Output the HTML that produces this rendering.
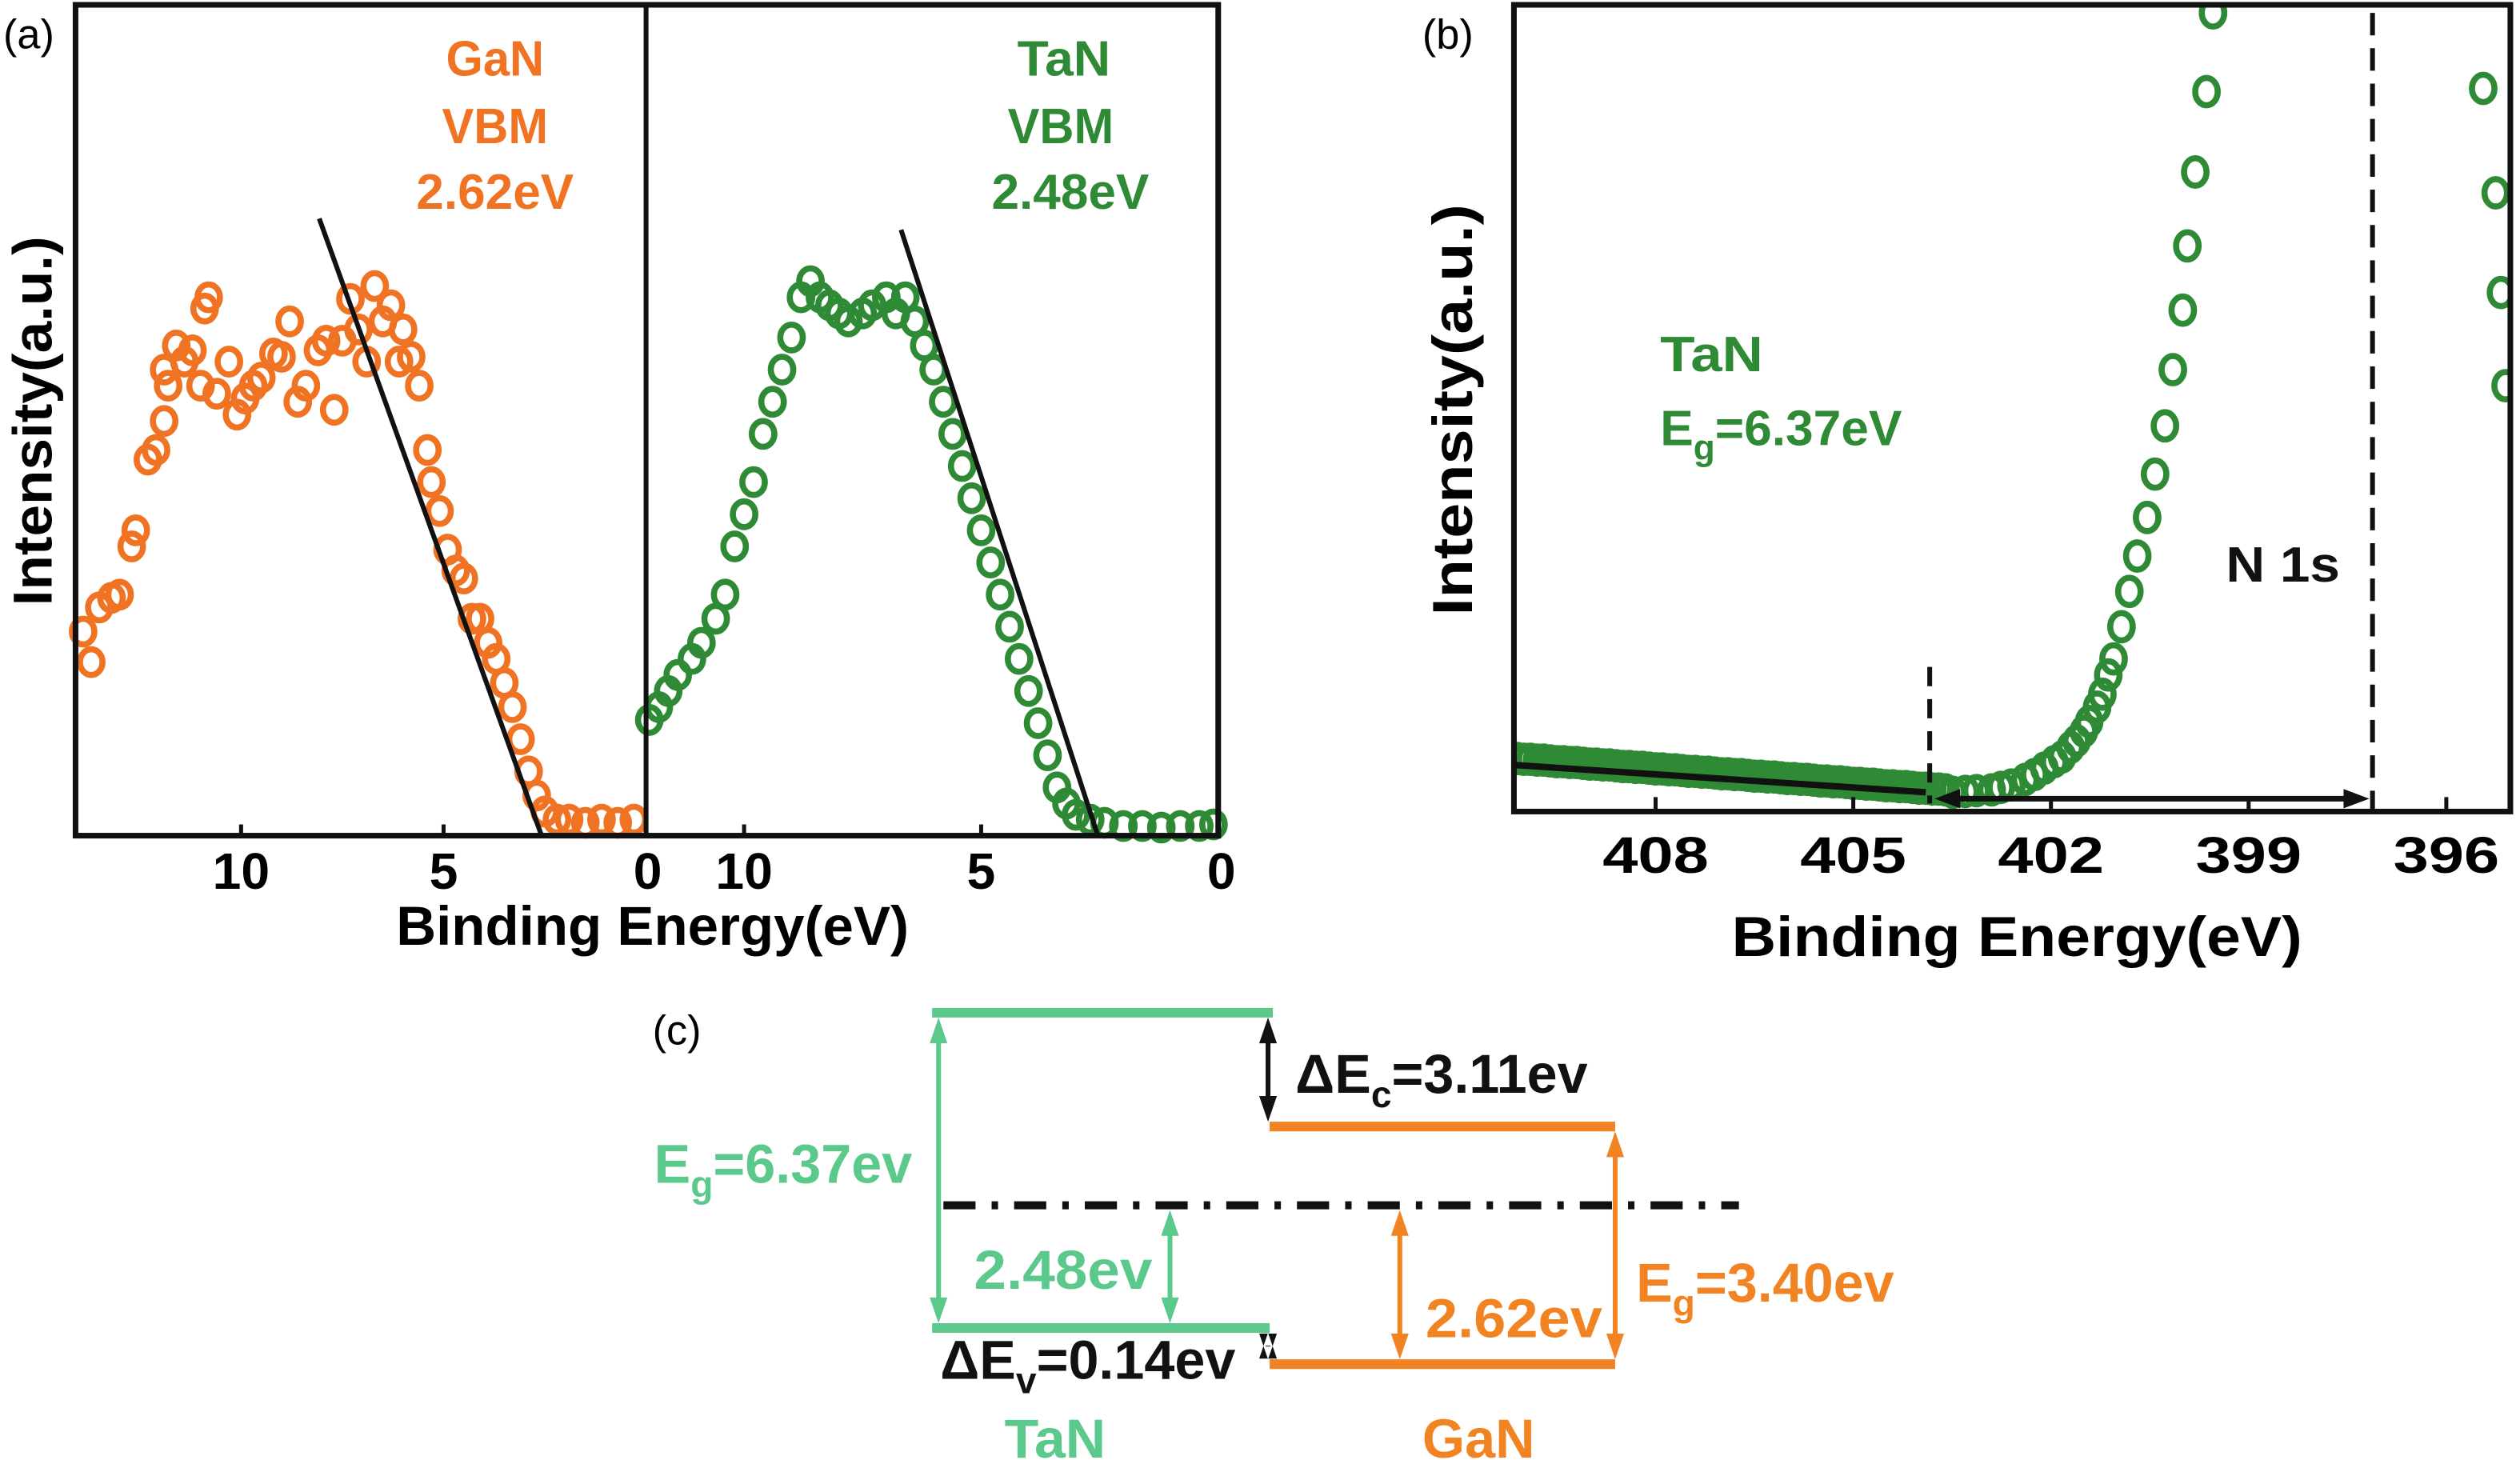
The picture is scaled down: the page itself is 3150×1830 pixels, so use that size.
<!DOCTYPE html>
<html><head><meta charset="utf-8"><title>XPS band alignment TaN/GaN</title>
<style>
html,body{margin:0;padding:0;background:#fff;}
svg{display:block;}
text{font-family:"Liberation Sans Narrow","Liberation Sans",sans-serif;font-weight:bold;}
.reg{font-weight:normal;font-family:"Liberation Sans",sans-serif;}
</style></head>
<body>
<svg id="fig" xmlns="http://www.w3.org/2000/svg" width="3150" height="1830" viewBox="0 0 1568 911" preserveAspectRatio="none">
<g id="pa"></g>
<g id="pb"></g>
<g id="pc"></g>
</svg>
<script>
// ---------- Panel (a) data ----------
const ganEnergy = [13.9,13.7,13.5,13.2,13.0,12.7,12.6,12.3,12.1,11.9,11.8,11.9,11.6,11.4,11.2,11.0,10.9,10.8,10.6,10.3,10.1,9.9,9.7,9.5,9.2,9.0,8.8,8.6,8.4,8.1,7.9,7.7,7.5,7.3,7.1,6.9,6.7,6.5,6.3,6.1,6.0,5.8,5.6,5.4,5.3,5.1,4.9,4.7,4.5,4.3,4.1,3.9,3.7,3.5,3.3,3.1,2.9,2.7,2.5,2.2,1.9,1.5,1.1,0.7,0.3];
const ganIntensity = [25.4,21.6,28.4,29.6,30,36,38,46.8,48,51.6,56,58,61,59,60.4,56,65.6,67,55,59,52.4,54.4,56,57,60,59.6,64,54,56,60.4,61.6,53,61.6,66.8,63,59,68.4,64,66,59,63,59.6,56,48,44,40.4,35.6,33,32,27,27,24,22,19,16,12,8,5,3,2,2,1.6,2,1.6,2];
const tanEnergy = [12.0,11.8,11.6,11.4,11.1,10.9,10.6,10.4,10.2,10.0,9.8,9.6,9.4,9.2,9.0,8.8,8.6,8.4,8.2,8.0,7.8,7.5,7.3,7.0,6.8,6.6,6.4,6.2,6.0,5.8,5.6,5.4,5.2,5.0,4.8,4.6,4.4,4.2,4.0,3.8,3.6,3.4,3.2,3.0,2.7,2.4,2.0,1.6,1.2,0.8,0.4,0.1];
const tanIntensity = [14.4,16,18,20,22,24,27,30,36,40,44,50,54,58,62,67,69,67,66,65,64,65,66,67,65,67,64,61,58,54,50,46,42,38,34,30,26,22,18,14,10,6,4,2.6,2,1.6,1.2,1.2,1,1.2,1.2,1.4];
const ganFitEnergy = [8.07,2.58];
const ganFitIntensity = [76.8,0];
const tanFitEnergy = [6.69,2.54];
const tanFitIntensity = [75.4,0];
const aTicks = [10,5,0];
const aTickLabels = ["10","5","0"];

// ---------- Panel (b) data ----------
const bEnergy = [410.1,410.0,409.9,409.8,409.7,409.6,409.5,409.4,409.3,409.2,409.1,409.0,408.9,408.8,408.7,408.6,408.5,408.4,408.3,408.2,408.1,408.0,407.9,407.8,407.7,407.6,407.5,407.4,407.3,407.2,407.1,407.0,406.9,406.8,406.7,406.6,406.5,406.4,406.3,406.2,406.1,406.0,405.9,405.8,405.7,405.6,405.5,405.4,405.3,405.2,405.1,405.0,404.9,404.8,404.7,404.6,404.5,404.4,404.3,404.2,404.1,404.0,403.9,403.8,403.7,403.6,
403.49,403.3,403.13,402.9,402.76,402.6,402.39,402.25,402.10,401.95,401.83,401.7,401.61,401.5,401.42,401.3,401.22,401.13,401.05,400.93,400.81,400.69,400.54,400.42,400.27,400.15,400.00,399.93,399.81,399.64,399.54,395.44,395.25,395.17,395.10];
const bIntensity = [6.6,6.5,6.5,6.4,6.4,6.3,6.2,6.2,6.1,6.1,6.0,5.9,5.9,5.8,5.8,5.7,5.6,5.6,5.5,5.5,5.4,5.3,5.3,5.2,5.2,5.1,5.0,5.0,4.9,4.9,4.8,4.7,4.7,4.6,4.6,4.5,4.4,4.4,4.3,4.3,4.2,4.1,4.1,4.0,4.0,3.9,3.8,3.8,3.7,3.7,3.6,3.5,3.5,3.4,3.4,3.3,3.2,3.2,3.1,3.1,3.0,2.9,2.9,2.8,2.8,2.7,
2.4,2.5,2.6,2.7,3.0,3.3,4.0,4.6,5.4,6.2,6.8,8.0,8.8,10.0,11.2,13.0,14.6,17.0,19.0,23.0,27.4,31.8,36.6,42.0,48.0,55.0,62.4,70.4,79.6,89.6,99.4,90.0,77.0,64.6,53.0];
const bFitEnergy = [410.15,403.9];
const bFitIntensity = [5.8,2.4];
const bTicks = [408,405,402,399,396];
const bTickLabels = ["408","405","402","399","396"];
const bOnset = 403.84;
const bPeak = 397.12;

// ---------- Panel (c) data (schematic energy positions, eV) ----------
const tanVB = -2.48, tanCB = 3.89, ganVB = -3.21, ganCB = 1.59;

const NS = "http://www.w3.org/2000/svg";
function mk(parent, tag, attrs, txt){
  const e = document.createElementNS(NS, tag);
  for (const k in attrs) e.setAttribute(k, attrs[k]);
  if (txt !== undefined) e.textContent = txt;
  parent.appendChild(e);
  return e;
}
const ORANGE = "#F07324", GREEN = "#2F8A35", LGREEN = "#5BC98B", CORANGE = "#F28322";

// ===== Panel A =====
const pa = document.getElementById("pa");
const aY = v => 520 - v * 5;
const aXL = e => 402 - e * 25.2;
const aXR = e => 758 - e * 29.5;
let t;
t = mk(pa, "text", {x:2, y:30, "font-size":26, class:"reg"}, "(a)");



function scatter(g, xs, ys, fx, fy, color, name, rx, ry, sw){
  for (let i = 0; i < xs.length; i++){
    const c = mk(g, "ellipse", {cx:fx(xs[i]), cy:fy(ys[i]), rx:rx, ry:ry, fill:"none", stroke:color, "stroke-width":sw});
    
    
  }
}
const gGaN = mk(pa, "g", {});


scatter(gGaN, ganEnergy, ganIntensity, aXL, aY, ORANGE, "gan-point", 7, 8, 3.8);
const gTaN = mk(pa, "g", {});


scatter(gTaN, tanEnergy, tanIntensity, aXR, aY, GREEN, "tan-point", 7, 8, 3.8);

let ln = mk(pa, "line", {x1:aXL(ganFitEnergy[0]), y1:aY(ganFitIntensity[0]), x2:aXL(ganFitEnergy[1]), y2:aY(ganFitIntensity[1]), stroke:"#111", "stroke-width":3});


ln = mk(pa, "line", {x1:aXR(tanFitEnergy[0]), y1:aY(tanFitIntensity[0]), x2:aXR(tanFitEnergy[1]), y2:aY(tanFitIntensity[1]), stroke:"#111", "stroke-width":3});



let r = mk(pa, "rect", {x:47, y:3, width:711, height:517, fill:"none", stroke:"#111", "stroke-width":3.5});


ln = mk(pa, "line", {x1:402, y1:3, x2:402, y2:520, stroke:"#111", "stroke-width":3});


aTicks.forEach((v,i)=>{
  [[aXL,"left"],[aXR,"right"]].forEach(([f,side])=>{
    const x = f(v);
    const tk = mk(pa, "line", {x1:x, y1:520, x2:x, y2:513, stroke:"#111", "stroke-width":2.5});
    
    
    let tx = x;
    if (side==="left" && v===0) tx = 403;
    if (side==="right" && v===0) tx = 760;
    const tl = mk(pa, "text", {x:tx, y:553, "font-size":32, "text-anchor":"middle"}, aTickLabels[i]);
    
    
  });
});
t = mk(pa, "text", {x:406, y:588, "font-size":34, "text-anchor":"middle", textLength:319, lengthAdjust:"spacingAndGlyphs"}, "Binding Energy(eV)");


t = mk(pa, "text", {x:0, y:0, "font-size":34, "text-anchor":"middle", transform:"translate(32,262) rotate(-90)", textLength:230, lengthAdjust:"spacingAndGlyphs"}, "Intensity(a.u.)");


[["GaN",47,61],["VBM",89,66],["2.62eV",130,98]].forEach(([s,y,w])=>{
  const tt = mk(pa, "text", {x:308, y:y, "font-size":31, "text-anchor":"middle", fill:ORANGE, textLength:w, lengthAdjust:"spacingAndGlyphs"}, s);
  
  
});
[["TaN",47,58,662],["VBM",89,66,660],["2.48eV",130,98,666]].forEach(([s,y,w,x])=>{
  const tt = mk(pa, "text", {x:x, y:y, "font-size":31, "text-anchor":"middle", fill:GREEN, textLength:w, lengthAdjust:"spacingAndGlyphs"}, s);
  
  
});

// ===== Panel B =====
const pb = document.getElementById("pb");
const bX = e => 942 + (410.15 - e) * 41;
const bY = v => 505 - v * 5;
t = mk(pb, "text", {x:885, y:30, "font-size":26, class:"reg"}, "(b)");


const clip = mk(pb, "clipPath", {id:"clipb"});
mk(clip, "rect", {x:942, y:3, width:620, height:502});
const gB = mk(pb, "g", {"clip-path":"url(#clipb)"});


scatter(gB, bEnergy, bIntensity, bX, bY, GREEN, "n1s-point", 7, 8.5, 3.8);
ln = mk(pb, "line", {x1:bX(bFitEnergy[0]), y1:bY(bFitIntensity[0]), x2:bX(bFitEnergy[1]), y2:bY(bFitIntensity[1]), stroke:"#111", "stroke-width":4});


ln = mk(pb, "line", {x1:bX(bOnset), y1:415, x2:bX(bOnset), y2:500, stroke:"#111", "stroke-width":3, "stroke-dasharray":"12 8"});


ln = mk(pb, "line", {x1:bX(bPeak), y1:8, x2:bX(bPeak), y2:505, stroke:"#111", "stroke-width":3, "stroke-dasharray":"14 8"});


const ax1 = bX(bOnset)+3, ax2 = bX(bPeak)-2;
ln = mk(pb, "line", {x1:ax1+10, y1:497, x2:ax2-10, y2:497, stroke:"#111", "stroke-width":3.5});


let p = mk(pb, "path", {d:`M${ax1},497 L${ax1+16},491 L${ax1+16},503 Z M${ax2},497 L${ax2-16},491 L${ax2-16},503 Z`, fill:"#111"});


r = mk(pb, "rect", {x:942, y:3, width:620, height:502, fill:"none", stroke:"#111", "stroke-width":3.5});


bTicks.forEach((v,i)=>{
  const x = bX(v);
  const tk = mk(pb, "line", {x1:x, y1:505, x2:x, y2:496, stroke:"#111", "stroke-width":2.5});
  
  
  const tl = mk(pb, "text", {x:x, y:543, "font-size":32, "text-anchor":"middle", textLength:66, lengthAdjust:"spacingAndGlyphs"}, bTickLabels[i]);
  
  
});
t = mk(pb, "text", {x:1255, y:595, "font-size":35, "text-anchor":"middle", textLength:355, lengthAdjust:"spacingAndGlyphs"}, "Binding Energy(eV)");


t = mk(pb, "text", {x:0, y:0, "font-size":35, "text-anchor":"middle", transform:"translate(916,255) rotate(-90)", textLength:256, lengthAdjust:"spacingAndGlyphs"}, "Intensity(a.u.)");


t = mk(pb, "text", {x:1033, y:231, "font-size":31, fill:GREEN, textLength:64, lengthAdjust:"spacingAndGlyphs"}, "TaN");


t = mk(pb, "text", {x:1033, y:277, "font-size":31, fill:GREEN});


mk(t, "tspan", {}, "E");
mk(t, "tspan", {dy:9, "font-size":22}, "g");
mk(t, "tspan", {dy:-9}, "=6.37eV");
t = mk(pb, "text", {x:1385, y:362, "font-size":31, fill:"#111", textLength:71, lengthAdjust:"spacingAndGlyphs"}, "N 1s");



// ===== Panel C =====
const pc = document.getElementById("pc");
const cY = e => 750 - e * 30.8;
t = mk(pc, "text", {x:406, y:650, "font-size":26, class:"reg"}, "(c)");


function level(x1,x2,e,color,name){
  const l = mk(pc, "line", {x1:x1, y1:cY(e), x2:x2, y2:cY(e), stroke:color, "stroke-width":6});
  
  
}
function darrow(x,e1,e2,color,name){
  const y1 = cY(e1)+3, y2 = cY(e2)-3;
  const g = mk(pc, "g", {});
  
  
  mk(g, "line", {x1:x, y1:y1+8, x2:x, y2:y2-8, stroke:color, "stroke-width":3});
  mk(g, "path", {d:`M${x},${y1} L${x-5.5},${y1+16} L${x+5.5},${y1+16} Z M${x},${y2} L${x-5.5},${y2-16} L${x+5.5},${y2-16} Z`, fill:color});
}
ln = mk(pc, "line", {x1:587, y1:750, x2:1082, y2:750, stroke:"#111", "stroke-width":5, "stroke-dasharray":"20 10 4 10"});


level(580, 792, tanCB, LGREEN, "tan-conduction-band");
level(580, 790, tanVB, LGREEN, "tan-valence-band");
level(790, 1005, ganCB, CORANGE, "gan-conduction-band");
level(790, 1005, ganVB, CORANGE, "gan-valence-band");
darrow(584, tanCB, tanVB, LGREEN, "tan-bandgap-arrow");
darrow(728, 0, tanVB, LGREEN, "tan-vbm-arrow");
darrow(871, 0, ganVB, CORANGE, "gan-vbm-arrow");
darrow(1005, ganCB, ganVB, CORANGE, "gan-bandgap-arrow");
darrow(789, tanCB, ganCB, "#111", "delta-ec-arrow");
darrow(789, tanVB, ganVB, "#111", "delta-ev-arrow");
function sublabel(x,y,pre,sub,post,color,name){
  const tt = mk(pc, "text", {x:x, y:y, "font-size":34, fill:color});
  
  
  mk(tt, "tspan", {}, pre);
  mk(tt, "tspan", {dy:9, "font-size":23}, sub);
  mk(tt, "tspan", {dy:-9}, post);
  return tt;
}
sublabel(407, 736, "E", "g", "=6.37ev", LGREEN, "tan-bandgap-label");
sublabel(806, 680, "ΔE", "c", "=3.11ev", "#111", "delta-ec-label");
sublabel(585, 858, "ΔE", "v", "=0.14ev", "#111", "delta-ev-label");
sublabel(1018, 810, "E", "g", "=3.40ev", CORANGE, "gan-bandgap-label");
t = mk(pc, "text", {x:606, y:802, "font-size":34, fill:LGREEN, textLength:111, lengthAdjust:"spacingAndGlyphs"}, "2.48ev");


t = mk(pc, "text", {x:887, y:832, "font-size":34, fill:CORANGE, textLength:110, lengthAdjust:"spacingAndGlyphs"}, "2.62ev");


t = mk(pc, "text", {x:625, y:907, "font-size":34, fill:LGREEN, textLength:63, lengthAdjust:"spacingAndGlyphs"}, "TaN");


t = mk(pc, "text", {x:885, y:907, "font-size":34, fill:CORANGE, textLength:70, lengthAdjust:"spacingAndGlyphs"}, "GaN");


</script>
</body></html>
